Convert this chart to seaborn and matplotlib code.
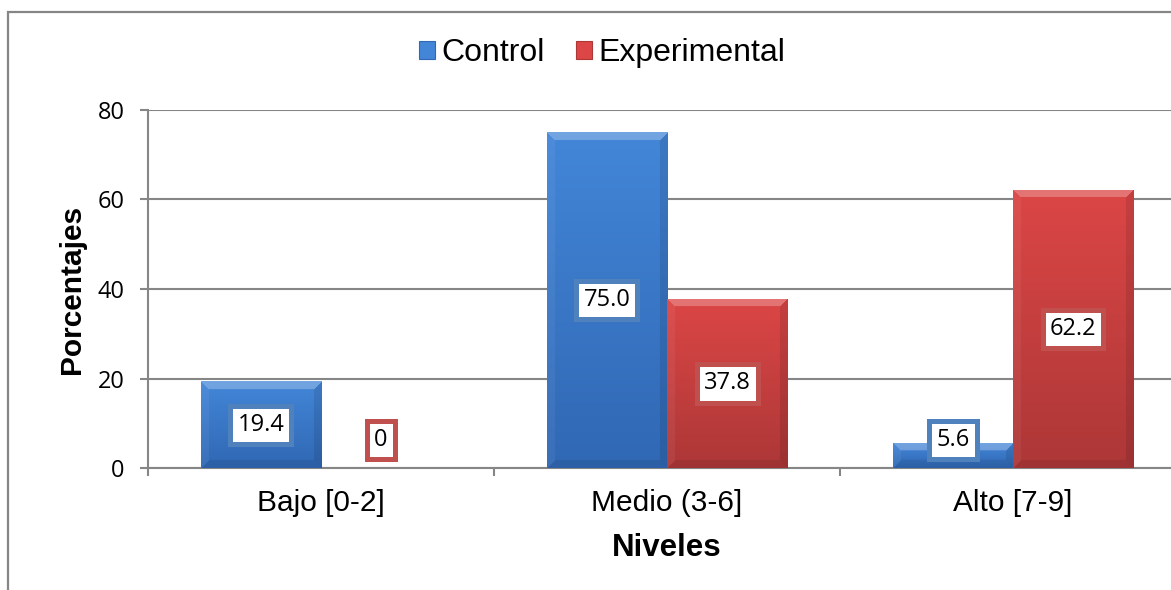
import numpy as np
import pandas as pd
import matplotlib
matplotlib.use("Agg")
import matplotlib.pyplot as plt
from matplotlib.patches import Patch, Rectangle
from matplotlib.colors import to_rgb
import seaborn as sns

# ---- data ----
niveles = ["Bajo [0-2]", "Medio (3-6]", "Alto [7-9]"]
grupos = ["Control", "Experimental"]
control = [19.4, 75.0, 5.6]
experimental = [0.0, 37.8, 62.2]
y_ticks = [0, 20, 40, 60, 80]

df = pd.DataFrame({
    "Nivel": niveles * 2,
    "Grupo": [grupos[0]] * 3 + [grupos[1]] * 3,
    "Porcentaje": control + experimental,
})

# ---- style ----
sns.set_style("white")
plt.rcParams["font.family"] = ["Liberation Sans", "DejaVu Sans"]
plt.rcParams["text.color"] = "black"
plt.rcParams["axes.labelcolor"] = "black"
plt.rcParams["xtick.color"] = "black"
plt.rcParams["ytick.color"] = "black"
NUM_FONT = ["Open Sans", "DejaVu Sans"]
GRID = "#868686"

base_top = {"Control": "#4386D8", "Experimental": "#DC4646"}
base_bot = {"Control": "#3068B4", "Experimental": "#AD3737"}
edge_col = {"Control": "#4F81BD", "Experimental": "#C0504D"}

W, H, DPI = 11.71, 5.90, 100
fig = plt.figure(figsize=(W, H), dpi=DPI)
ax = fig.add_axes([148 / 1171, 1 - 468 / 590, 1038 / 1171, 358 / 590])

sns.barplot(data=df, x="Nivel", y="Porcentaje", hue="Grupo", order=niveles,
            hue_order=grupos, palette=base_top, width=0.694, dodge=True,
            saturation=1, legend=False, ax=ax, zorder=3)

ax.set_xlim(-0.5, 2.5)
ax.set_ylim(0, 80)

# outer chart border
fig.patches.append(Rectangle((8 / 1171, -0.2), 1.2, 1.2 - 12 / 590,
                             transform=fig.transFigure, fill=False,
                             edgecolor=GRID, linewidth=1.6, zorder=0))


def bevel_image(w_px, h_px, c_top, c_bot, bev):
    """RGB image of a bevelled bar with a vertical gradient."""
    w_px, h_px = max(int(w_px), 2), max(int(h_px), 2)
    yy, xx = np.mgrid[0:h_px, 0:w_px]
    t = (yy / max(h_px - 1, 1))[..., None]
    top = np.array(to_rgb(c_top))
    bot = np.array(to_rgb(c_bot))
    img = top * (1 - t) + bot * t
    d_top, d_bot = yy, h_px - 1 - yy
    d_left, d_right = xx, w_px - 1 - xx
    dmin = np.minimum(np.minimum(d_top, d_bot), np.minimum(d_left, d_right))
    inside = dmin < bev
    white = np.ones(3)
    black = np.zeros(3)
    m_top = inside & (d_top == dmin)
    m_left = inside & (d_left == dmin) & ~m_top
    m_right = inside & (d_right == dmin) & ~m_top
    m_bot = inside & (d_bot == dmin) & ~m_top & ~m_left & ~m_right
    img[m_top] = img[m_top] * 0.75 + white * 0.25
    img[m_left] = img[m_left] * 0.95 + white * 0.05
    img[m_right] = img[m_right] * 0.9 + black * 0.1
    img[m_bot] = img[m_bot] * 0.92 + black * 0.08
    return np.clip(img, 0, 1)


# gradient / bevel on each bar, built from the bar geometry
for grupo, container in zip(grupos, ax.containers):
    for bar in container:
        x0, y0 = bar.get_x(), bar.get_y()
        w, h = bar.get_width(), bar.get_height()
        if h <= 0:
            bar.set_visible(False)
            continue
        (px0, py0), (px1, py1) = ax.transData.transform([(x0, y0), (x0 + w, y0 + h)])
        wpx, hpx = abs(px1 - px0), abs(py1 - py0)
        bev = min(8, hpx / 3, wpx / 4)
        img = bevel_image(wpx, hpx, base_top[grupo], base_bot[grupo], bev)
        im = ax.imshow(img, extent=(x0, x0 + w, y0, y0 + h), aspect="auto",
                       origin="upper", zorder=3.5, interpolation="bilinear")
        im.set_clip_path(bar)
        bar.set_edgecolor("#6a6a6a")
        bar.set_linewidth(0.4)

ax.set_xlim(-0.5, 2.5)
ax.set_ylim(0, 80)

# value labels
for grupo, vals, container in zip(grupos, [control, experimental], ax.containers):
    for v, bar in zip(vals, container):
        xc = bar.get_x() + bar.get_width() / 2
        yc = max(v / 2, 6.25)
        txt = "0" if v == 0 else f"{v:.1f}"
        ax.text(xc, yc, txt, ha="center", va="center", fontsize=17,
                family=NUM_FONT, color="black", zorder=6,
                bbox=dict(boxstyle="square,pad=0.3", facecolor="white",
                          edgecolor=edge_col[grupo], linewidth=3.6))

# axes, ticks, grid
ax.set_yticks(y_ticks)
ax.set_yticklabels([str(v) for v in y_ticks], family=NUM_FONT, fontsize=17)
ax.yaxis.grid(True, color=GRID, linewidth=1.5)
ax.set_axisbelow(True)
ax.tick_params(axis="y", direction="out", length=6, width=1.5, color=GRID,
               pad=11, left=True, labelcolor="black")

ax.set_xticks([0, 1, 2])
ax.set_xticklabels(niveles, fontsize=21.5)
ax.set_xticks([-0.5, 0.5, 1.5, 2.5], minor=True)
ax.tick_params(axis="x", which="major", length=0, pad=15, labelcolor="black")
ax.tick_params(axis="x", which="minor", direction="out", length=6, width=1.5,
               color=GRID, bottom=True)

for side in ["top", "right"]:
    ax.spines[side].set_visible(False)
for side in ["left", "bottom"]:
    ax.spines[side].set_color(GRID)
    ax.spines[side].set_linewidth(1.5)

ax.set_xlabel("Niveles", fontsize=22.5, fontweight="bold", va="center", color="black")
ax.xaxis.set_label_coords(0.4995, -80 / 358)
ax.set_ylabel("Porcentajes", fontsize=21.5, fontweight="bold", va="center", color="black")
ax.yaxis.set_label_coords(-76 / 1038, 0.5)

# legend
handles = [Patch(facecolor=base_top[g], edgecolor=base_bot[g], linewidth=0.8, label=g)
           for g in grupos]
fig.legend(handles=handles, loc="center", bbox_to_anchor=(602 / 1171, 1 - 53 / 590),
           ncol=2, frameon=False, fontsize=23, handlelength=0.5, handleheight=0.5,
           handletextpad=0.2, columnspacing=1.0, borderpad=0, labelcolor="black")

fig.savefig("out.png", dpi=DPI)
